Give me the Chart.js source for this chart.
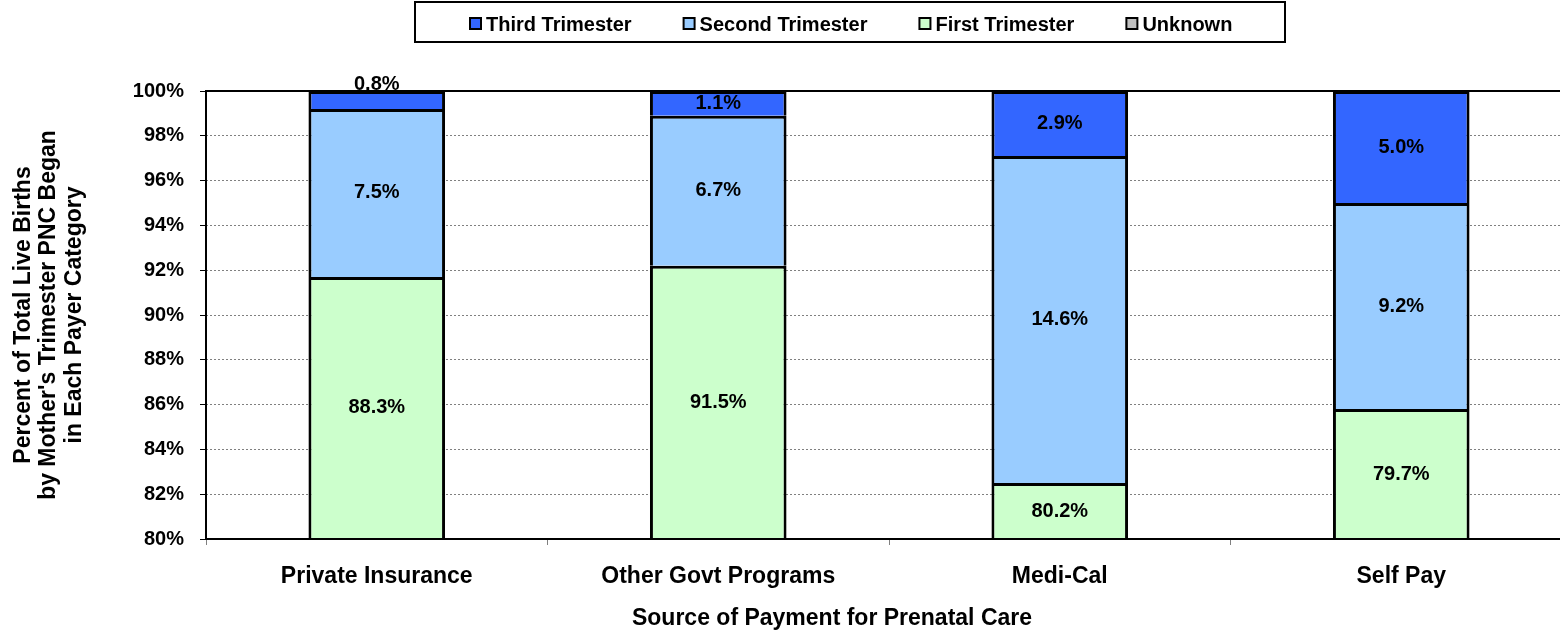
<!DOCTYPE html>
<html>
<head>
<meta charset="utf-8">
<title>Trimester Prenatal Care Began by Payer</title>
<script src="https://cdn.jsdelivr.net/npm/chart.js@4.4.1/dist/chart.umd.min.js"></script>
<style>
  html, body { margin: 0; padding: 0; background: #fff; overflow: hidden; }
  #wrap { width: 1560px; height: 631px; overflow: hidden; }
  #box { position: relative; width: 1572px; height: 631px; }
</style>
</head>
<body>
<div id="wrap"><div id="box"><canvas id="pncChart"></canvas></div></div>
<script>
const categories = ["Private Insurance", "Other Govt Programs", "Medi-Cal", "Self Pay"];

// percent of births in each payer category (stacked bottom to top: unknown, first, second, third)
const unknownPct = [3.4, 0.7, 2.3, 6.1];
const firstTrimester = [88.3, 91.5, 80.2, 79.7];
const secondTrimester = [7.5, 6.7, 14.6, 9.2];
const thirdTrimester = [0.8, 1.1, 2.9, 5.0];

const yMin = 80;
const yMax = 100;
const yStep = 2;

const yTitle = ["Percent of Total Live Births", "by Mother's Trimester PNC Began", "in Each Payer Category"];
const xTitle = "Source of Payment for Prenatal Care";

const FONT = '"Liberation Sans", Arial, sans-serif';
const labelledSeries = ["First Trimester", "Second Trimester", "Third Trimester"];

// frame, value labels, boxed legend and x title, Excel style
const excelExtras = {
  id: "excelExtras",
  afterDatasetsDraw(chart) {
    const { ctx, chartArea } = chart;

    ctx.save();
    ctx.strokeStyle = "#000";
    ctx.lineWidth = 2;
    ctx.strokeRect(chartArea.left, chartArea.top, chartArea.right - chartArea.left, chartArea.bottom - chartArea.top);
    ctx.restore();

    ctx.save();
    ctx.font = "bold 20px " + FONT;
    ctx.fillStyle = "#000";
    ctx.textAlign = "center";
    ctx.textBaseline = "middle";
    chart.data.datasets.forEach((ds, i) => {
      if (!labelledSeries.includes(ds.label)) return;
      chart.getDatasetMeta(i).data.forEach((bar, j) => {
        const top = Math.max(bar.y, chartArea.top);
        const bottom = Math.min(bar.base, chartArea.bottom);
        const h = bottom - top;
        if (h <= 0) return;
        // thin segments get the label pushed up above them
        const cy = h < 20 ? top - 7 : (top + bottom) / 2;
        ctx.fillText(ds.data[j].toFixed(1) + "%", bar.x, cy);
      });
    });
    ctx.restore();
  },
  afterDraw(chart) {
    const { ctx } = chart;

    // legend box
    ctx.save();
    ctx.strokeStyle = "#000";
    ctx.lineWidth = 2;
    ctx.strokeRect(415, 2, 870, 40);
    ctx.font = "bold 20px " + FONT;
    ctx.textAlign = "left";
    ctx.textBaseline = "alphabetic";
    let x = 470;
    [3, 2, 1, 0].forEach((i) => {
      const ds = chart.data.datasets[i];
      ctx.fillStyle = ds.backgroundColor;
      ctx.fillRect(x, 18, 11, 11);
      ctx.lineWidth = 2;
      ctx.strokeRect(x, 18, 11, 11);
      ctx.fillStyle = "#000";
      ctx.fillText(ds.label, x + 16, 31);
      x += 16 + ctx.measureText(ds.label).width + 52;
    });
    ctx.restore();

    // x axis title (sits off-centre like the original)
    ctx.save();
    ctx.font = "bold 23px " + FONT;
    ctx.fillStyle = "#000";
    ctx.textAlign = "center";
    ctx.textBaseline = "alphabetic";
    ctx.fillText(xTitle, 832, 625);
    ctx.restore();
  }
};

const barStyle = { borderColor: "#000", borderWidth: 3, barPercentage: 0.4, categoryPercentage: 1.0, clip: 0 };

new Chart(document.getElementById("pncChart"), {
  type: "bar",
  data: {
    labels: categories,
    datasets: [
      { label: "Unknown", data: unknownPct, backgroundColor: "#C0C0C0", ...barStyle },
      { label: "First Trimester", data: firstTrimester, backgroundColor: "#CCFFCC", ...barStyle },
      { label: "Second Trimester", data: secondTrimester, backgroundColor: "#99CCFF", ...barStyle },
      { label: "Third Trimester", data: thirdTrimester, backgroundColor: "#3366FF", ...barStyle },
    ],
  },
  options: {
    responsive: true,
    maintainAspectRatio: false,
    animation: false,
    layout: { padding: { top: 91, right: 0, bottom: 0, left: 0 } },
    plugins: {
      legend: { display: false },
      tooltip: { enabled: false },
    },
    scales: {
      x: {
        stacked: true,
        grid: { offset: true, drawOnChartArea: false, drawTicks: true, tickLength: 6, tickColor: "#808080", tickWidth: 1 },
        border: { display: false },
        ticks: {
          color: "#000",
          font: { family: FONT, size: 23, weight: "bold" },
          padding: 18,
          maxRotation: 0,
          autoSkip: false,
        },
        afterFit(scale) {
          scale.height = 92;
        },
      },
      y: {
        stacked: true,
        min: yMin,
        max: yMax,
        ticks: {
          stepSize: yStep,
          callback: (v) => v + "%",
          color: "#000",
          font: { family: FONT, size: 20, weight: "bold" },
          padding: 16,
        },
        grid: { color: "#808080", lineWidth: 1, tickLength: 6, tickColor: "#000" },
        border: { display: false, dash: [2, 2] },
        title: {
          display: true,
          text: yTitle,
          color: "#000",
          font: { family: FONT, size: 23, weight: "bold", lineHeight: 1.1 },
          padding: { top: 11, bottom: 0 },
        },
        afterFit(scale) {
          scale.width = 206;
        },
      },
    },
  },
  plugins: [excelExtras],
});
</script>
</body>
</html>
